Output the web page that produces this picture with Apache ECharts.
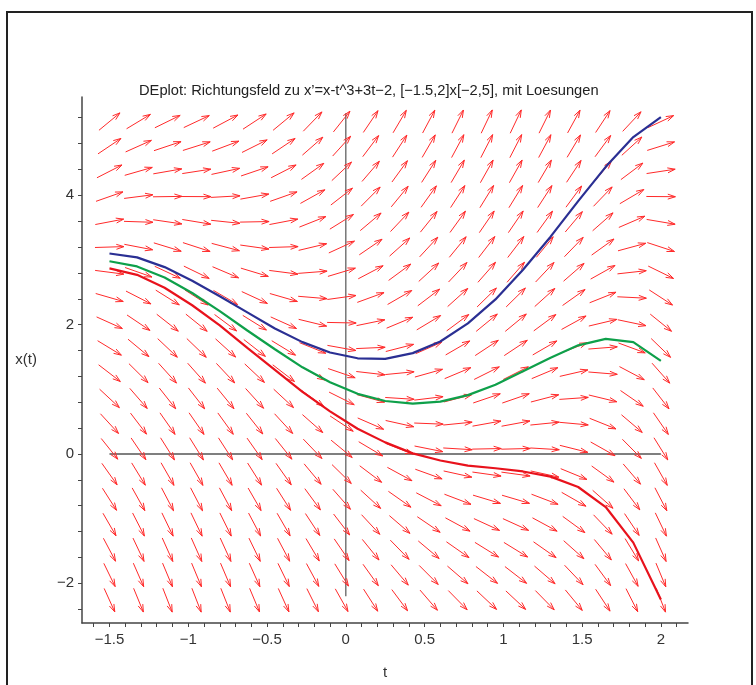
<!DOCTYPE html>
<html><head><meta charset="utf-8">
<script src="https://cdn.jsdelivr.net/npm/echarts@6/dist/echarts.min.js"></script>
<style>html,body{margin:0;padding:0;background:#fff}#c{width:756px;height:685px}</style>
</head><body><div id="c"></div>
<script>
// Direction-field grid (t columns, x rows)
const tGrid = [-1.5,-1.3158,-1.1316,-0.9474,-0.7632,-0.5789,-0.3947,-0.2105,-0.0263,0.1579,0.3421,0.5263,0.7105,0.8947,1.0789,1.2632,1.4474,1.6316,1.8158,2.0];
const xGrid = [-2.26,-1.87,-1.48,-1.09,-0.70,-0.31,0.08,0.47,0.86,1.25,1.64,2.03,2.42,2.81,3.20,3.59,3.98,4.37,4.76,5.14];
// ODE stated in the title: x' = x - t^3 + 3t - 2
function slope(t, x) { return x - t * t * t + 3 * t - 2; }

// Solution curves (vertices)
const solT = [-1.5,-1.325,-1.15,-0.975,-0.8,-0.625,-0.45,-0.275,-0.1,0.075,0.25,0.425,0.6,0.775,0.95,1.125,1.3,1.475,1.65,1.825,2.0];
const solBlue  = [3.10,3.04,2.89,2.68,2.44,2.19,1.94,1.73,1.57,1.48,1.47,1.56,1.74,2.02,2.39,2.85,3.36,3.91,4.44,4.90,5.21];
const solGreen = [2.98,2.90,2.73,2.49,2.21,1.91,1.62,1.34,1.11,0.93,0.82,0.78,0.81,0.91,1.07,1.28,1.49,1.68,1.78,1.73,1.44];
const solRed   = [2.87,2.77,2.57,2.30,1.99,1.64,1.30,0.96,0.66,0.39,0.18,0.01,-0.10,-0.18,-0.22,-0.27,-0.35,-0.51,-0.82,-1.37,-2.25];

// Axes
const xMajorTicks = [-1.5,-1,-0.5,0,0.5,1,1.5,2];
const xMinorTicks = [-1.6,-1.5,-1.4,-1.3,-1.2,-1.1,-1,-0.9,-0.8,-0.7,-0.6,-0.5,-0.4,-0.3,-0.2,-0.1,0,0.1,0.2,0.3,0.4,0.5,0.6,0.7,0.8,0.9,1,1.1,1.2,1.3,1.4,1.5,1.6,1.7,1.8,1.9,2,2.1];
const yMajorTicks = [-2,0,2,4];
const yMinorTicks = [-2.4,-2,-1.6,-1.2,-0.8,-0.4,0,0.4,0.8,1.2,1.6,2,2.4,2.8,3.2,3.6,4,4.4,4.8,5.2];
const innerAxisT = [-1.5, 2];
const innerAxisX = [-2.2, 5.27];
const titleText = "DEplot: Richtungsfeld zu x\u2019=x-t^3+3t\u22122, [\u22121.5,2]x[\u22122,5], mit Loesungen";

const FONT = 'Liberation Sans, Arial, Helvetica, sans-serif';
const dT = tGrid[1] - tGrid[0];
const dX = xGrid[1] - xGrid[0];

const fieldData = [];
for (const t of tGrid) for (const x of xGrid) fieldData.push([t, x]);

function fmt(v) { return String(v).replace('-', '\u2212'); }

const chart = echarts.init(document.getElementById('c'), null, { renderer: 'canvas' });
const arrowColor = '#ff2a2a';
const option = {
  animation: false,
  backgroundColor: '#fff',
  title: {
    text: titleText, left: 134, top: 78,
    textStyle: { fontFamily: FONT, fontSize: 14.7, fontWeight: 'normal', color: '#222' }
  },
  graphic: [{
    type: 'rect', shape: { x: 7, y: 12, width: 745, height: 700 },
    style: { fill: 'none', stroke: '#222', lineWidth: 2 }, silent: true
  }],
  grid: { left: 82, right: 68, top: 97, bottom: 62, outerBoundsMode: 'none', containLabel: false },
  xAxis: {
    type: 'value', min: -1.6744, max: 2.1722,
    name: 't', nameLocation: 'middle', nameGap: 42,
    nameTextStyle: { fontFamily: FONT, fontSize: 15, color: '#333' },
    axisLine: { onZero: false, lineStyle: { color: '#444', width: 1.5 } },
    axisTick: { show: true, customValues: xMinorTicks, length: 4, lineStyle: { color: '#444' } },
    axisLabel: { customValues: xMajorTicks, formatter: fmt, margin: 9, fontFamily: FONT, fontSize: 15, color: '#333' },
    splitLine: { show: false }
  },
  yAxis: {
    type: 'value', min: -2.613, max: 5.52,
    name: 'x(t)', nameLocation: 'middle', nameGap: 45, nameRotate: 0,
    nameTextStyle: { fontFamily: FONT, fontSize: 15, color: '#333' },
    axisLine: { onZero: false, lineStyle: { color: '#444', width: 1.5 } },
    axisTick: { show: true, customValues: yMinorTicks, length: 4, lineStyle: { color: '#444' } },
    axisLabel: { customValues: yMajorTicks, formatter: fmt, margin: 8, fontFamily: FONT, fontSize: 15, color: '#333' },
    splitLine: { show: false }
  },
  series: [
    {
      type: 'line', data: [[0, innerAxisX[0]], [0, innerAxisX[1]]], showSymbol: false, silent: true,
      lineStyle: { color: '#777', width: 1.5 }, z: 1
    },
    {
      type: 'line', data: [[innerAxisT[0], 0], [innerAxisT[1], 0]], showSymbol: false, silent: true,
      lineStyle: { color: '#555', width: 1.5 }, z: 1
    },
    {
      type: 'custom', data: fieldData, z: 2, silent: true,
      renderItem: function (params, api) {
        const t = api.value(0), x = api.value(1);
        const c = api.coord([t, x]);
        const sx = api.size([1, 0])[0], sy = api.size([0, 1])[1];
        const cw = dT * sx, ch = dX * sy;
        const f = slope(t, x);
        let a = 1 / dT, b = f / dX;
        const n = Math.hypot(a, b); a /= n; b /= n;
        const px = a * cw * 1.0, py = -b * ch * 1.0;
        const x1 = c[0] - px / 2, y1 = c[1] - py / 2, x2 = c[0] + px / 2, y2 = c[1] + py / 2;
        const L = Math.hypot(px, py); const ux = px / L, uy = py / L;
        const h = 8, th = 18 * Math.PI / 180, cs = Math.cos(th), sn = Math.sin(th);
        const b1 = [x2 + h * (-ux * cs + uy * sn), y2 + h * (-uy * cs - ux * sn)];
        const b2 = [x2 + h * (-ux * cs - uy * sn), y2 + h * (-uy * cs + ux * sn)];
        const st = { stroke: arrowColor, lineWidth: 1, fill: null };
        return {
          type: 'group', children: [
            { type: 'line', shape: { x1: x1, y1: y1, x2: x2, y2: y2 }, style: st },
            { type: 'polyline', shape: { points: [b1, [x2, y2], b2] }, style: st }
          ]
        };
      }
    },
    {
      type: 'line', data: solT.map((t, i) => [t, solBlue[i]]), showSymbol: false, z: 3,
      lineStyle: { color: '#2a2f93', width: 2.2 }
    },
    {
      type: 'line', data: solT.map((t, i) => [t, solGreen[i]]), showSymbol: false, z: 3,
      lineStyle: { color: '#0ea04a', width: 2.2 }
    },
    {
      type: 'line', data: solT.map((t, i) => [t, solRed[i]]), showSymbol: false, z: 3,
      lineStyle: { color: '#e8121c', width: 2.2 }
    }
  ]
};
chart.setOption(option);
</script>
</body></html>
